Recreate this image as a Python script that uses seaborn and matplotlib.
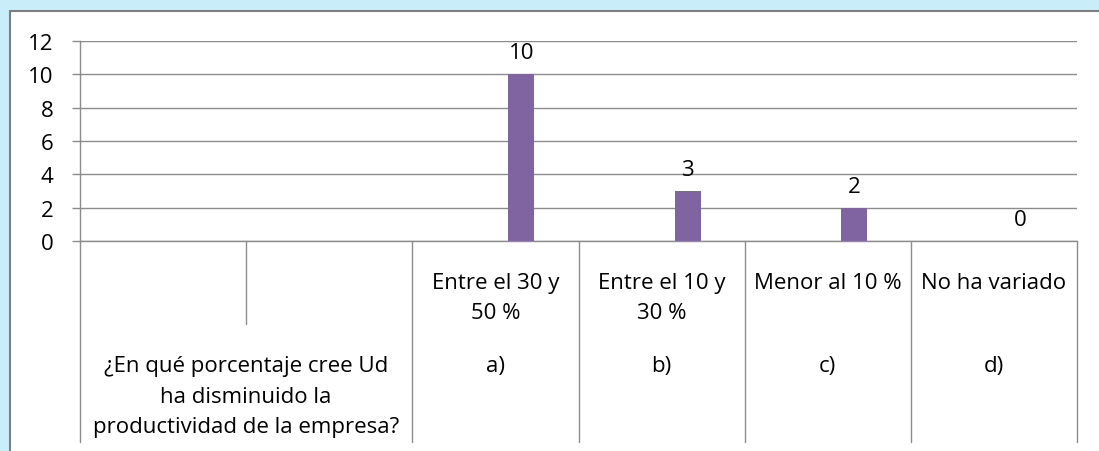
import numpy as np
import pandas as pd
import seaborn as sns
import matplotlib.pyplot as plt
from matplotlib.patches import Rectangle
from matplotlib.lines import Line2D

# data
categories = ['', ' ', 'Entre el 30 y\n50 %', 'Entre el 10 y\n30 %', 'Menor al 10 %', 'No ha variado']
outer_labels = ['a)', 'b)', 'c)', 'd)']
question = '¿En qué porcentaje cree Ud\nha disminuido la\nproductividad de la empresa?'
values = [np.nan, np.nan, 10, 3, 2, 0]
series = ['Serie1', 'Serie2', 'Serie3']   # only the third series carries data
y_ticks = [0, 2, 4, 6, 8, 10, 12]

BAR = '#8064A2'
GRID = '#8C8C8C'
FS = 16

df = pd.DataFrame({'cat': categories, 'valor': values, 'serie': 'Serie3'})

sns.set_theme(style='white')
plt.rcParams['font.family'] = ['Open Sans', 'DejaVu Sans']
plt.rcParams['text.color'] = 'black'

fig = plt.figure(figsize=(10.99, 4.52), dpi=100)
ax = fig.add_axes([80 / 1099, 1 - 242 / 452, (1077 - 80) / 1099, 200 / 452])

sns.barplot(data=df, x='cat', y='valor', hue='serie', hue_order=series,
            order=categories, palette=[BAR] * 3, width=0.47, dodge=True,
            errorbar=None, legend=False, saturation=1, linewidth=0, ax=ax)

ax.set_xlim(-0.5, len(categories) - 0.5)
ax.set_ylim(0, 12)
ax.set_yticks(y_ticks)
ax.set_xticks([])
ax.set_xlabel('')
ax.set_ylabel('')
ax.tick_params(axis='y', left=True, length=6, width=1, color=GRID,
               labelsize=FS, pad=13, labelcolor='black')
ax.yaxis.grid(True, color=GRID, lw=1)
ax.set_axisbelow(True)
for s in ['top', 'right']:
    ax.spines[s].set_visible(False)
for s in ['left', 'bottom']:
    ax.spines[s].set_color(GRID)
    ax.spines[s].set_linewidth(1)

for cont in ax.containers:
    ax.bar_label(cont, fmt='%g', padding=8, fontsize=FS, color='black')

# multi-level category table under the axis
tr = ax.get_xaxis_transform()
for i in range(len(categories) + 1):
    x = i - 0.5
    y_end = -0.415 if i == 1 else -1.005
    ax.add_line(Line2D([x, x], [0, y_end], transform=tr, color=GRID, lw=1, clip_on=False))

for i, lab in enumerate(categories):
    ax.text(i, -0.155, lab, transform=tr, ha='center', va='top',
            fontsize=FS, linespacing=1.55, color='black')
for i, lab in enumerate(outer_labels):
    ax.text(i + 2, -0.57, lab, transform=tr, ha='center', va='top',
            fontsize=FS, color='black')
ax.text(0.5, -0.57, question, transform=tr, ha='center', va='top',
        fontsize=FS, linespacing=1.6, color='black')

# chart frame: light blue glow and grey border
fig.patches.append(Rectangle((0, 1 - 11 / 452), 1, 11 / 452, transform=fig.transFigure,
                             color='#C9EEF9', zorder=0))
fig.patches.append(Rectangle((0, 0), 9 / 1099, 1, transform=fig.transFigure,
                             color='#C9EEF9', zorder=0))
fig.add_artist(Line2D([10 / 1099, 1], [1 - 12 / 452, 1 - 12 / 452],
                      transform=fig.transFigure, color='#7F7F7F', lw=1.5))
fig.add_artist(Line2D([10 / 1099, 10 / 1099], [0, 1 - 12 / 452],
                      transform=fig.transFigure, color='#7F7F7F', lw=1.5))

fig.savefig('out.png', dpi=100)
